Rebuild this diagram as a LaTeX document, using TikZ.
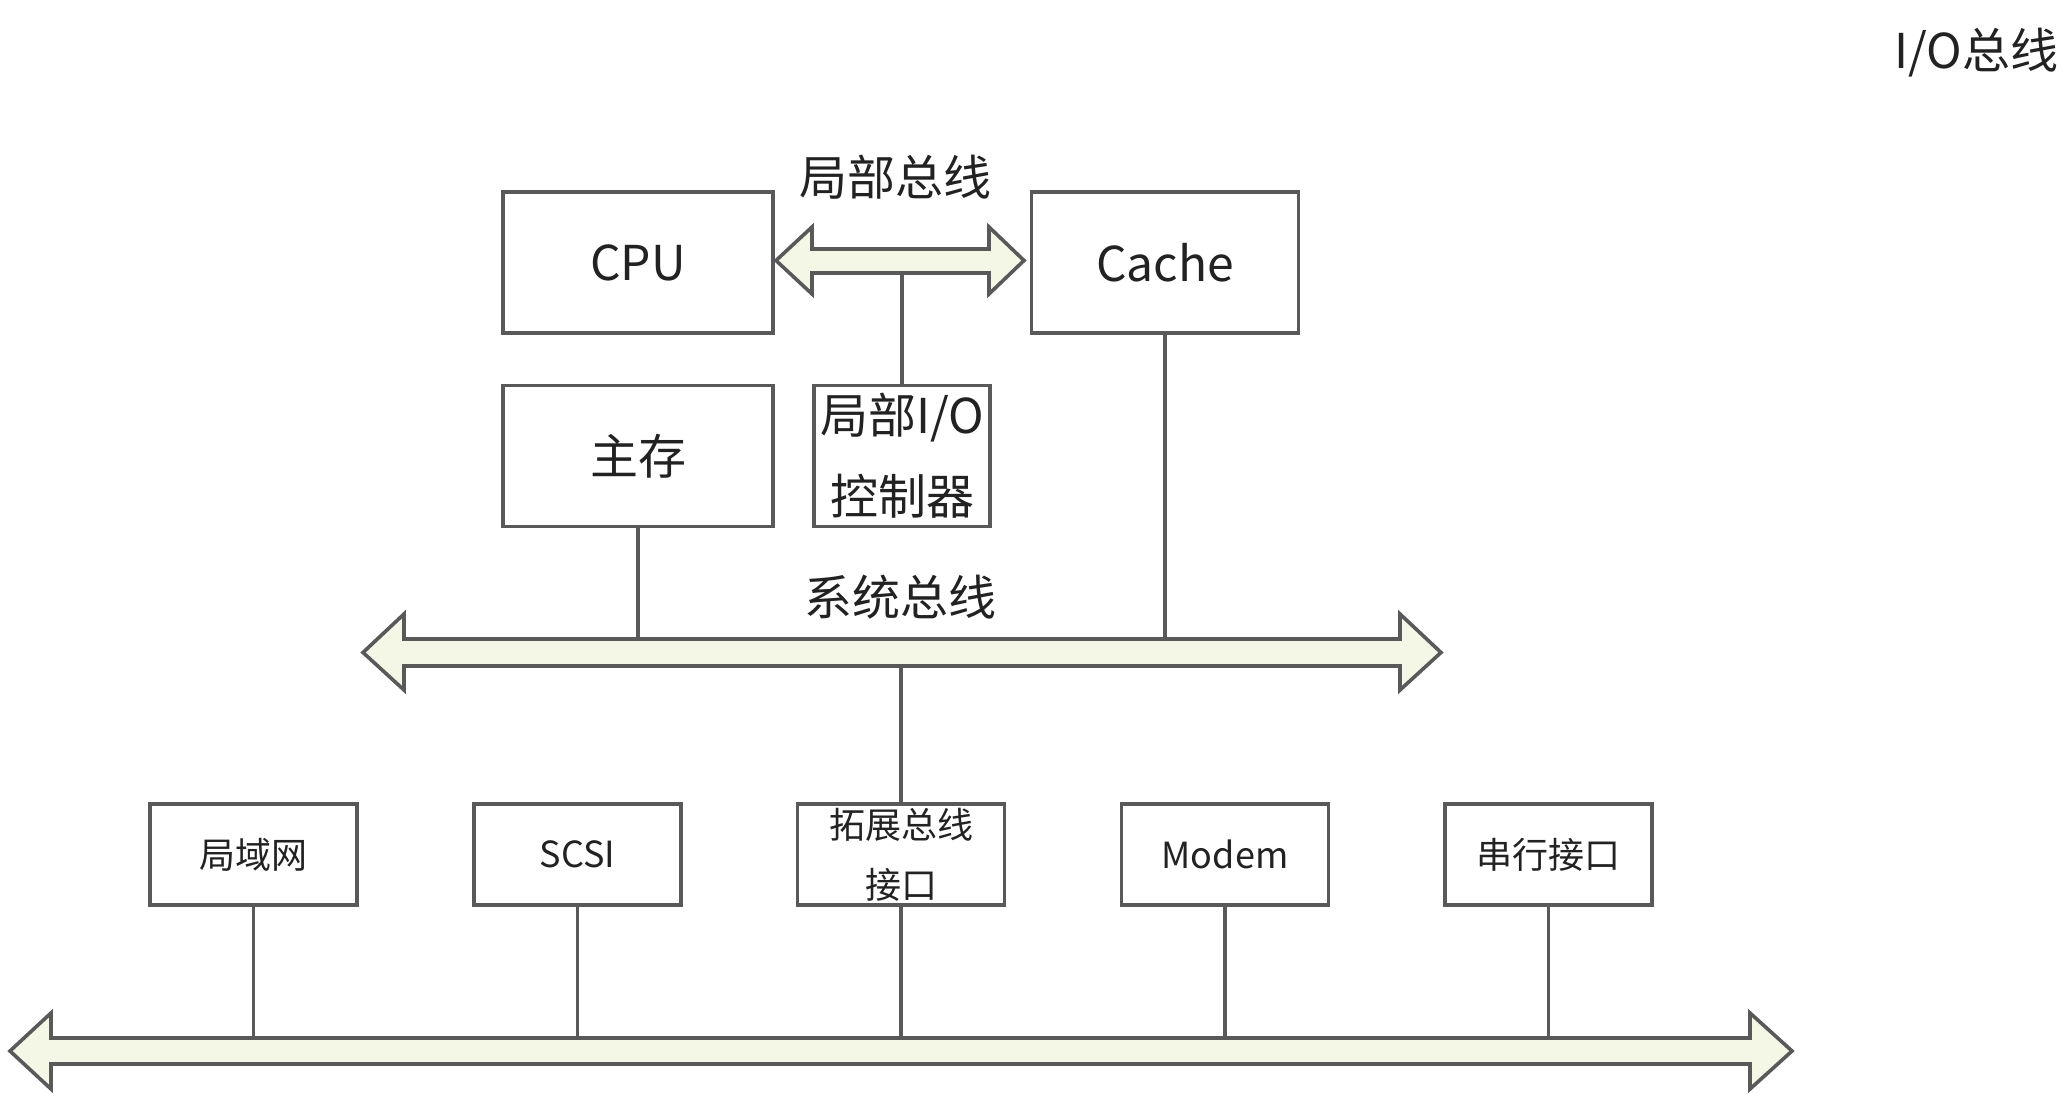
\documentclass[tikz,border=0pt]{standalone}
\usepackage{fontspec}
\setmainfont{Noto Sans CJK SC}
\definecolor{lc}{RGB}{89,89,89}
\definecolor{tc}{RGB}{34,34,34}
\definecolor{busfill}{RGB}{245,247,230}
\tikzset{
  bx/.style={draw=lc, line width=3.6pt, inner sep=0pt, text=tc, align=center, fill=white},
  bigbox/.style={bx, minimum width=270pt, minimum height=141pt, font=\fontsize{48}{81}\selectfont},
  smallbox/.style={bx, minimum width=207pt, minimum height=101pt, font=\fontsize{36}{60}\selectfont},
  link/.style={draw=lc, line width=3.1pt},
  bus/.style={draw=lc, fill=busfill, line width=3.6pt, line join=miter},
  lbl/.style={text=tc, inner sep=0pt, font=\fontsize{48}{58}\selectfont}
}
\begin{document}
\begin{tikzpicture}[x=1pt,y=-1pt]
\useasboundingbox[fill=white] (0,0) rectangle (2071,1094);

% boxes
\node[bigbox] (cpu) at (638,262.5) {CPU};
\node[bigbox, minimum width=267pt] (cache) at (1165,262.5) {Cache};
\node[bigbox] (mem) at (638,456) {主存};
\node[bigbox, minimum width=176pt] (lio) at (902,456) {局部I/O\\控制器};

\node[smallbox] (lan) at (253.5,854.5) {局域网};
\node[smallbox] (scsi) at (577.5,854.5) {SCSI};
\node[smallbox] (ext) at (901,854.5) {拓展总线\\接口};
\node[smallbox] (modem) at (1225,854.5) {Modem};
\node[smallbox] (ser) at (1548.5,854.5) {串行接口};

% labels
\node[lbl] (lblocal) at (895,177) {局部总线};
\node[lbl] (lbsys) at (900,597) {系统总线};
\node[lbl] (lbio) at (1976,53) {I/O总线};

% bus reference coordinates
\coordinate (lbB) at (0,273);
\coordinate (sbT) at (0,639);
\coordinate (sbB) at (0,666);
\coordinate (ioT) at (0,1038);

% connectors
\draw[link] (lio.north) -- (lio.north |- lbB);
\draw[link] (mem.south) -- (mem.south |- sbT);
\draw[link] (cache.south) -- (cache.south |- sbT);
\draw[link] (ext.north) -- (ext.north |- sbB);
\draw[link] (lan.south) -- (lan.south |- ioT);
\draw[link] (scsi.south) -- (scsi.south |- ioT);
\draw[link] (ext.south) -- (ext.south |- ioT);
\draw[link] (modem.south) -- (modem.south |- ioT);
\draw[link] (ser.south) -- (ser.south |- ioT);

% buses
\draw[bus] (776,260.5) -- (812,227) -- (812,249) -- (989,249) -- (989,227) -- (1024,260.5)
  -- (989,294) -- (989,273) -- (812,273) -- (812,294) -- cycle;
\draw[bus] (363,652.5) -- (404,614) -- (404,639) -- (1400,639) -- (1400,614) -- (1441,652.5)
  -- (1400,690) -- (1400,666) -- (404,666) -- (404,690) -- cycle;
\draw[bus] (10,1051) -- (51,1013) -- (51,1038) -- (1750,1038) -- (1750,1013) -- (1792,1051)
  -- (1750,1089) -- (1750,1064) -- (51,1064) -- (51,1089) -- cycle;
\end{tikzpicture}
\end{document}
